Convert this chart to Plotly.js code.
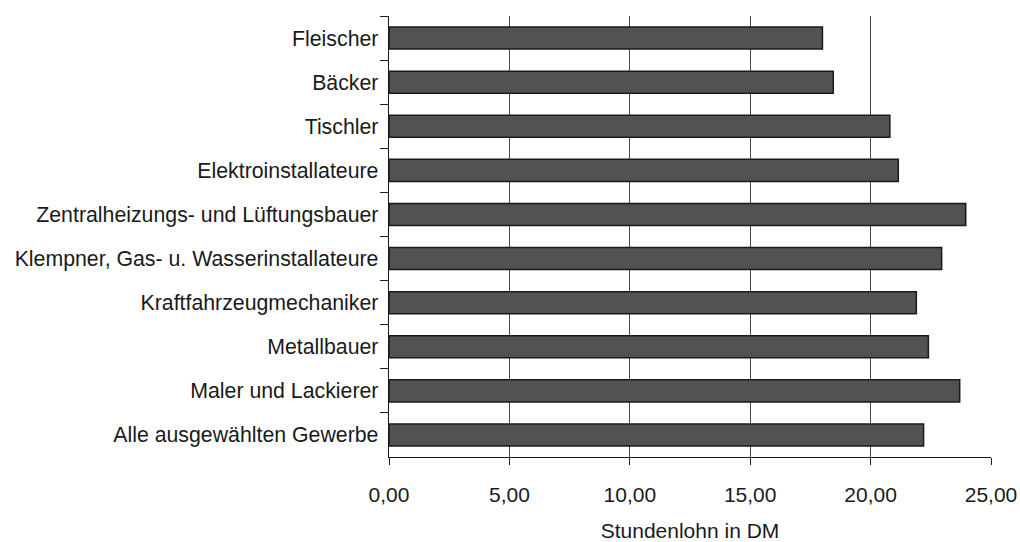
<!DOCTYPE html>
<html>
<head>
<meta charset="utf-8">
<script src="https://cdn.plot.ly/plotly-3.0.1.min.js"></script>
<style>html,body{margin:0;padding:0;background:#fff;}#chart{width:1020px;height:542px;}</style>
</head>
<body>
<div id="chart"></div>
<script>
const categories = [
  "Fleischer",
  "Bäcker",
  "Tischler",
  "Elektroinstallateure",
  "Zentralheizungs- und Lüftungsbauer",
  "Klempner, Gas- u. Wasserinstallateure",
  "Kraftfahrzeugmechaniker",
  "Metallbauer",
  "Maler und Lackierer",
  "Alle ausgewählten Gewerbe"
];
const stundenlohn = [18.0, 18.45, 20.8, 21.15, 23.95, 22.95, 21.9, 22.4, 23.7, 22.2];
const xTickValues = [0, 5, 10, 15, 20, 25];
const xTickLabels = ["0,00", "5,00", "10,00", "15,00", "20,00", "25,00"];

const trace = {
  type: "bar",
  orientation: "h",
  y: categories,
  x: stundenlohn,
  marker: { color: "#525252", line: { color: "#1a1a1a", width: 1.5 } },
  hoverinfo: "x+y"
};

const layout = {
  width: 1020,
  height: 542,
  paper_bgcolor: "#ffffff",
  plot_bgcolor: "#ffffff",
  margin: { l: 389, r: 29, t: 16, b: 85 },
  font: { family: "Liberation Sans, Arial, sans-serif", size: 20, color: "#1a1a1a" },
  showlegend: false,
  bargap: 0.5,
  xaxis: {
    range: [0, 25],
    tickvals: xTickValues,
    ticktext: xTickLabels,
    showgrid: true,
    gridcolor: "#4a4a4a",
    gridwidth: 1,
    zeroline: false,
    showline: true,
    linecolor: "#1a1a1a",
    linewidth: 1.3,
    ticks: "outside",
    ticklen: 7,
    tickcolor: "#1a1a1a",
    ticklabelstandoff: 11,
    tickfont: { size: 21 },
    title: { text: "Stundenlohn in DM", standoff: 19, font: { size: 21 } }
  },
  yaxis: {
    type: "category",
    autorange: "reversed",
    tickson: "boundaries",
    ticks: "outside",
    ticklen: 8,
    tickcolor: "#1a1a1a",
    showline: true,
    linecolor: "#1a1a1a",
    linewidth: 1.3,
    showgrid: false,
    zeroline: false,
    ticklabelstandoff: 5,
    tickfont: { size: 21.3 }
  }
};

Plotly.newPlot("chart", [trace], layout, { displayModeBar: false, staticPlot: true });
</script>
</body>
</html>
